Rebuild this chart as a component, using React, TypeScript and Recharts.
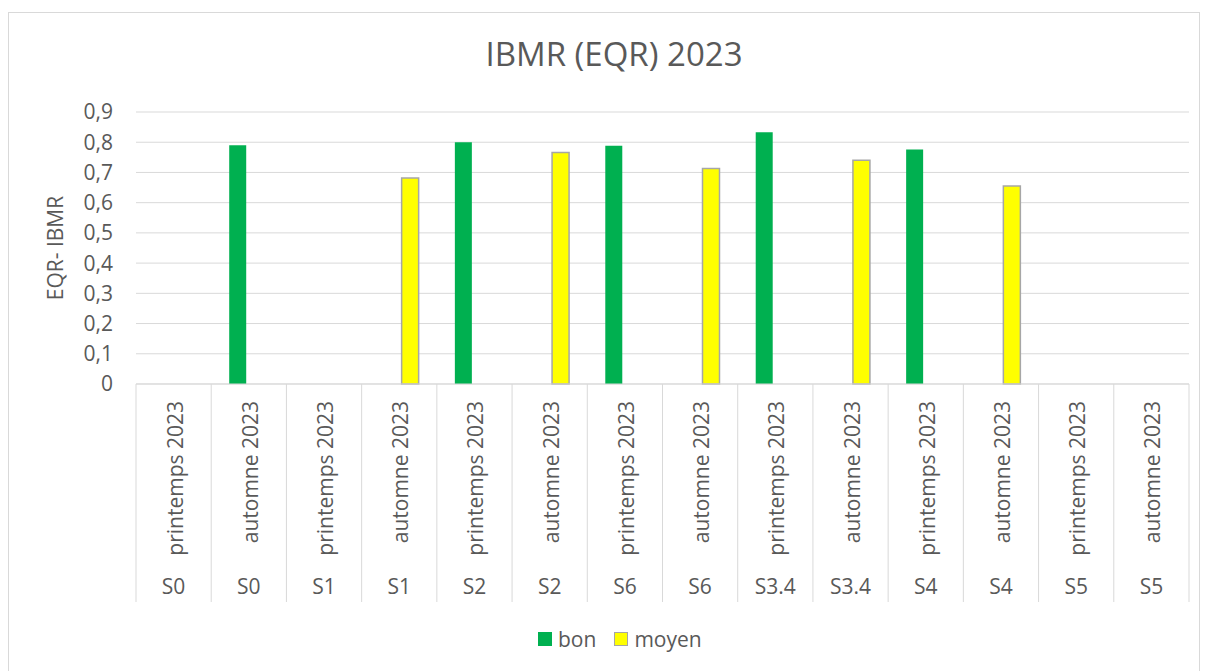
import React from 'react';
import { BarChart, Bar, XAxis, YAxis, CartesianGrid } from 'recharts';

const sites = ['S0', 'S0', 'S1', 'S1', 'S2', 'S2', 'S6', 'S6', 'S3.4', 'S3.4', 'S4', 'S4', 'S5', 'S5'];
const seasons = [
  'printemps 2023', 'automne 2023', 'printemps 2023', 'automne 2023', 'printemps 2023', 'automne 2023',
  'printemps 2023', 'automne 2023', 'printemps 2023', 'automne 2023', 'printemps 2023', 'automne 2023',
  'printemps 2023', 'automne 2023',
];
const bonValues = [null, 0.79, null, null, 0.8, null, 0.788, null, 0.833, null, 0.776, null, null, null];
const moyenValues = [null, null, null, 0.682, null, 0.766, null, 0.713, null, 0.74, null, 0.655, null, null];
const yTicks = [0, 0.1, 0.2, 0.3, 0.4, 0.5, 0.6, 0.7, 0.8, 0.9];

const seriesNames = ['bon', 'moyen'];
const seriesColors = ['#00b050', '#ffff00'];
const seriesBorders = ['#00b050', '#a6a6a6'];

const data = sites.map((site, i) => ({
  id: i,
  site,
  season: seasons[i],
  bon: bonValues[i],
  moyen: moyenValues[i],
}));

const W = 1208;
const H = 671;
const PLOT_LEFT = 136;
const PLOT_RIGHT = 1189;
const PLOT_TOP = 112;
const PLOT_BOTTOM = 384;
const AXIS_H = 218;
const TEXT = '#595959';
const GRID = '#d9d9d9';
const FS = 21;

function CategoryTick(props: any) {
  const { x, y, payload } = props;
  const i = payload.index ?? payload.value;
  const band = (PLOT_RIGHT - PLOT_LEFT) / data.length;
  const row = data[i];
  return (
    <g>
      <line x1={x - band / 2} y1={y} x2={x - band / 2} y2={y + AXIS_H} stroke={GRID} strokeWidth={1} />
      {i === data.length - 1 && (
        <line x1={x + band / 2} y1={y} x2={x + band / 2} y2={y + AXIS_H} stroke={GRID} strokeWidth={1} />
      )}
      <text
        x={x + 9}
        y={y + 17}
        transform={`rotate(-90 ${x + 9} ${y + 17})`}
        textAnchor="end"
        fill={TEXT}
        fontSize={FS}
      >
        {row.season}
      </text>
      <text x={x} y={y + 210} textAnchor="middle" fill={TEXT} fontSize={FS}>
        {row.site}
      </text>
    </g>
  );
}

export default function App() {
  return (
    <div style={{ position: 'relative', width: W, height: H, fontFamily: '"Open Sans", sans-serif', background: '#fff' }}>
      <style>{`body{margin:0}`}</style>
      <div
        style={{
          position: 'absolute',
          left: 8,
          top: 12,
          width: 1192,
          height: 670,
          border: '1px solid #d9d9d9',
          boxSizing: 'border-box',
        }}
      />
      <div
        style={{
          position: 'absolute',
          left: 0,
          top: 37,
          width: 1228,
          textAlign: 'center',
          fontSize: 33,
          lineHeight: 1,
          color: TEXT,
        }}
      >
        IBMR (EQR) 2023
      </div>
      <div style={{ position: 'absolute', left: 0, top: 0 }}>
        <BarChart
          width={W}
          height={H}
          data={data}
          margin={{ top: PLOT_TOP, right: W - PLOT_RIGHT, left: 0, bottom: H - PLOT_BOTTOM - AXIS_H }}
          barGap={5}
        >
          <CartesianGrid vertical={false} stroke={GRID} strokeWidth={1} />
          <XAxis
            dataKey="id"
            interval={0}
            height={AXIS_H}
            tickLine={false}
            tickSize={0}
            tickMargin={0}
            axisLine={{ stroke: GRID, strokeWidth: 1 }}
            tick={<CategoryTick />}
          />
          <YAxis
            width={PLOT_LEFT}
            domain={[0, 0.9]}
            ticks={yTicks}
            axisLine={false}
            tickLine={false}
            tickSize={0}
            tickMargin={23}
            tick={{ fill: TEXT, fontSize: FS }}
            tickFormatter={(v: number) => (v === 0 ? '0' : v.toFixed(1).replace('.', ','))}
            label={{
              content: () => (
                <text x={63} y={248} transform="rotate(-90 63 248)" textAnchor="middle" fill={TEXT} fontSize={FS}>
                  EQR- IBMR
                </text>
              ),
            }}
          />
          <Bar dataKey="bon" name="bon" fill="#00b050" barSize={17} isAnimationActive={false} />
          <Bar
            dataKey="moyen"
            name="moyen"
            fill="#ffff00"
            stroke="#a6a6a6"
            strokeWidth={1.5}
            barSize={17}
            isAnimationActive={false}
          />
        </BarChart>
      </div>
      <div
        style={{
          position: 'absolute',
          left: 538,
          top: 624,
          display: 'flex',
          alignItems: 'center',
          fontSize: FS,
          color: TEXT,
          lineHeight: '30px',
        }}
      >
        {seriesNames.map((name, i) => (
          <div key={name} style={{ display: 'flex', alignItems: 'center', marginRight: 18 }}>
            <span
              style={{
                display: 'inline-block',
                width: 14,
                height: 14,
                background: seriesColors[i],
                border: i === 1 ? `1.5px solid ${seriesBorders[i]}` : 'none',
                boxSizing: 'border-box',
                marginRight: 6,
              }}
            />
            <span>{name}</span>
          </div>
        ))}
      </div>
    </div>
  );
}
